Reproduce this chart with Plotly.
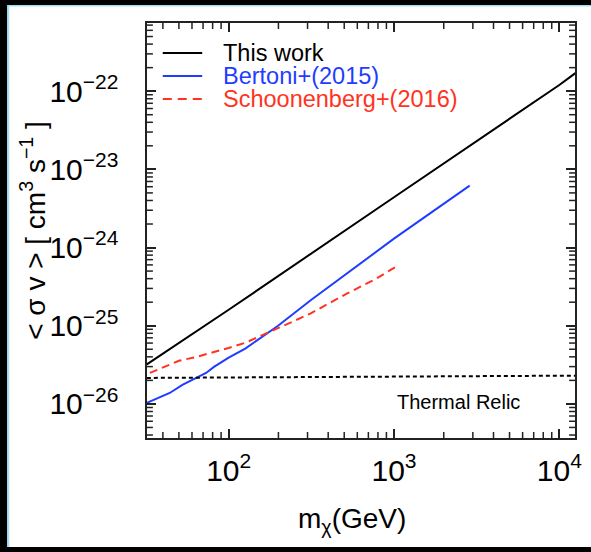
import plotly.graph_objects as go

# ---------------- data ----------------
m_this = [32, 100, 1000, 10000, 12500]
sv_this = [3.2e-26, 1.6e-25, 4.4e-24, 1.2e-22, 1.7e-22]

m_bertoni = [32, 44, 52.5, 60, 73, 81.5, 100, 126, 157, 199, 312, 518, 1000, 2870]
sv_bertoni = [1.03e-26, 1.38e-26, 1.75e-26, 2.03e-26, 2.49e-26, 2.98e-26, 3.9e-26,
              5.1e-26, 7.0e-26, 1.0e-25, 2.1e-25, 4.6e-25, 1.3e-24, 6.2e-24]

m_schoon = [33.4, 40, 50, 64, 79, 100, 126, 157, 199, 251, 312, 433, 518, 781, 1057]
sv_schoon = [2.49e-26, 2.9e-26, 3.56e-26, 4.0e-26, 4.5e-26, 5.2e-26, 6.05e-26, 7.4e-26,
             9.4e-26, 1.16e-25, 1.43e-25, 2.1e-25, 2.57e-25, 4.0e-25, 5.9e-25]

m_relic = [32, 12500]
sv_relic = [2.15e-26, 2.3e-26]

names = ["This work", "Bertoni+(2015)", "Schoonenberg+(2016)"]
colors = ["#000000", "#1f3cff", "#ff3322"]
relic_label = "Thermal Relic"

X_RANGE = [1.506, 4.095]
Y_RANGE = [-26.436, -21.128]

# minor tick positions (digits 2..9 of each decade, inside the axis range)
x_minor = [d * 10 ** e for e in range(1, 5) for d in range(2, 10)
           if 10 ** X_RANGE[0] < d * 10 ** e < 10 ** X_RANGE[1]]
y_minor = [d * 10.0 ** e for e in range(-27, -21) for d in range(2, 10)
           if 10 ** Y_RANGE[0] < d * 10.0 ** e < 10 ** Y_RANGE[1]]

FONT = "Liberation Sans, Arial, Helvetica, sans-serif"
AXC = "#222"
PLOT_W, PLOT_H = 435, 415      # plot-area size in pixels (from the margins below)
MINOR_LEN = 6                  # minor tick length in pixels

fig = go.Figure()
fig.add_trace(go.Scatter(x=m_this, y=sv_this, mode="lines", name=names[0],
                         line=dict(color=colors[0], width=2), showlegend=False))
fig.add_trace(go.Scatter(x=m_bertoni, y=sv_bertoni, mode="lines", name=names[1],
                         line=dict(color=colors[1], width=2), showlegend=False))
fig.add_trace(go.Scatter(x=m_schoon, y=sv_schoon, mode="lines", name=names[2],
                         line=dict(color=colors[2], width=2, dash="8px,5px"), showlegend=False))
fig.add_trace(go.Scatter(x=m_relic, y=sv_relic, mode="lines", name=relic_label,
                         line=dict(color="#000000", width=2, dash="4px,3px"), showlegend=False))

# minor ticks drawn as line segments in data space (inside, all four sides)
ylo, yhi = Y_RANGE
xlo, xhi = X_RANGE
dy = MINOR_LEN / PLOT_H * (yhi - ylo)
dx = MINOR_LEN / PLOT_W * (xhi - xlo)
tx, ty = [], []
for v in x_minor:
    tx += [v, v, None, v, v, None]
    ty += [10 ** ylo, 10 ** (ylo + dy), None, 10 ** yhi, 10 ** (yhi - dy), None]
for v in y_minor:
    tx += [10 ** xlo, 10 ** (xlo + dx), None, 10 ** xhi, 10 ** (xhi - dx), None]
    ty += [v, v, None, v, v, None]
fig.add_trace(go.Scatter(x=tx, y=ty, mode="lines", line=dict(color=AXC, width=1.5),
                         showlegend=False, hoverinfo="skip", cliponaxis=False))

axis_common = dict(
    type="log", showline=True, linewidth=1.5, linecolor=AXC, mirror="allticks",
    ticks="inside", ticklen=9, tickwidth=1.5, tickcolor=AXC,
    showgrid=False, zeroline=False, dtick=1, exponentformat="power",
    tickfont=dict(family=FONT, size=24, color="#000"),
)
fig.update_xaxes(range=X_RANGE, ticklabelstandoff=6, **axis_common)
fig.update_yaxes(range=Y_RANGE, ticklabelstandoff=22, **axis_common)

# legend drawn by hand
leg_y = [0.928, 0.872, 0.817]
dashes = ["solid", "solid", "9px,6px"]
for i in range(3):
    fig.add_shape(type="line", xref="paper", yref="paper",
                  x0=0.0368, x1=0.129, y0=leg_y[i], y1=leg_y[i],
                  line=dict(color=colors[i], width=2, dash=dashes[i]))
    fig.add_annotation(xref="paper", yref="paper", x=0.174, y=leg_y[i],
                       xanchor="left", yanchor="middle", showarrow=False,
                       text=names[i], font=dict(family=FONT, size=23.5, color=colors[i]))

fig.add_annotation(xref="paper", yref="paper", x=0.876, y=0.0867,
                   xanchor="right", yanchor="middle", showarrow=False,
                   text=relic_label, font=dict(family=FONT, size=20, color="#000"))

# axis titles
fig.add_annotation(xref="paper", yref="paper", x=0.48, y=-0.1976,
                   xanchor="center", yanchor="middle", showarrow=False,
                   text="m<sub>χ</sub>(GeV)", font=dict(family=FONT, size=28, color="#000"))
fig.add_annotation(xref="paper", yref="paper", x=-0.268, y=0.5, textangle=-90,
                   xanchor="center", yanchor="middle", showarrow=False,
                   text="< σ v > [ cm<sup>3</sup> s<sup>−1</sup> ]",
                   font=dict(family=FONT, size=28, color="#000"))

# page frame (black border + light blue edge)
frame = [
    (-0.40, 1.10, 1.0434, 1.10, "#000000"),      # top black
    (-0.40, 1.10, 1.0398, 1.0434, "#9fe0f5"),    # top light blue
    (-0.40, -0.3264, -0.40, 1.10, "#000000"),    # left black
    (-0.3264, -0.3218, -0.2627, 1.0434, "#9fe0f5"),  # left light blue
    (-0.40, 1.10, -0.40, -0.2627, "#000000"),    # bottom black
]
for x0, x1, y0, y1, c in frame:
    fig.add_shape(type="rect", xref="paper", yref="paper", x0=x0, x1=x1, y0=y0, y1=y1,
                  fillcolor=c, line=dict(width=0), layer="above")

fig.update_layout(
    width=591, height=552,
    margin=dict(l=147, r=9, t=23, b=114),
    paper_bgcolor="white", plot_bgcolor="white",
    font=dict(family=FONT, color="#000"),
)

fig.write_html("out.html")
